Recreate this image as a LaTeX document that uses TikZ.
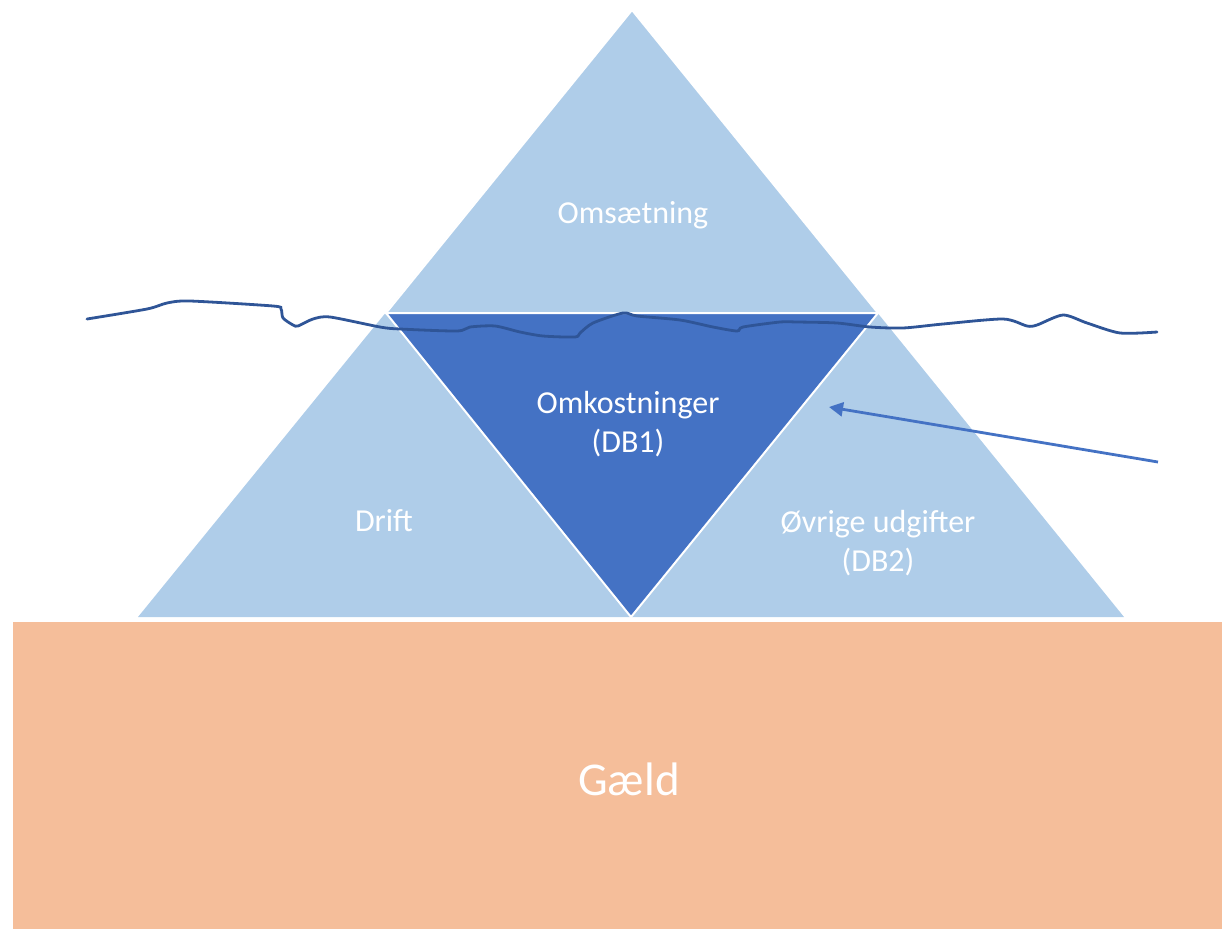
\documentclass[tikz,border=0pt]{standalone}
\usepackage{fontspec}
\setmainfont{Carlito}
\usetikzlibrary{arrows.meta}
\definecolor{lightblue}{HTML}{AFCDE9}
\definecolor{darkblue}{HTML}{4472C4}
\definecolor{wave}{HTML}{2F5597}
\definecolor{debt}{HTML}{F5BE9A}
\tikzset{
  piece/.style={draw=white,line width=2pt,line join=miter},
  lbl/.style={text=white,font=\fontsize{32}{39}\selectfont,align=center},
}
\begin{document}
\begin{tikzpicture}[x=1pt,y=-1pt]
\useasboundingbox (0,0) rectangle (1222,929);
% triangles
\fill[lightblue] (632,10) -- (138,617) -- (1124,617) -- cycle;
\filldraw[piece,fill=lightblue] (632,10) -- (386,313) -- (878,313) -- cycle;
\filldraw[piece,fill=darkblue] (386,313) -- (878,313) -- (631,617) -- cycle;
% base rectangle
\fill[debt] (13,622) rectangle (1222,929);
% labels
\node[lbl] (oms) at (633,215) {Omsætning};
\node[lbl] (omk) at (628,424) {Omkostninger\\(DB1)};
\node[lbl] (drift) at (384,521) {Drift};
\node[lbl] (ovr) at (878,543) {Øvrige udgifter\\(DB2)};
\node[text=white,font=\fontsize{47}{56}\selectfont] (gaeld) at (629,779) {Gæld};
% waterline
\draw[wave,line width=2.8pt,line cap=round] plot[smooth,tension=0.45] coordinates {
 (87,319) (147,309) (167,303) (190,301) (273,306) (281,309) (283,318) (293,325) (298,326)
 (313,319) (330,317) (380,327) (400,329) (457,331) (470,327) (495,326) (520,332) (543,336)
 (575,337) (580,333) (593,323) (623,313) (637,316) (680,320) (713,327) (737,331) (743,327)
 (780,322) (797,322) (837,323) (870,327) (903,328) (943,324) (1003,319) (1027,326) (1037,325)
 (1063,315) (1087,323) (1120,333) (1157,332)};
% arrow
\coordinate (astart) at (1158,462);
\coordinate (aend) at (829,407);
\draw[darkblue,line width=2.8pt,-{Triangle[length=14pt,width=14pt]}] (astart) -- (aend);
\end{tikzpicture}
\end{document}
